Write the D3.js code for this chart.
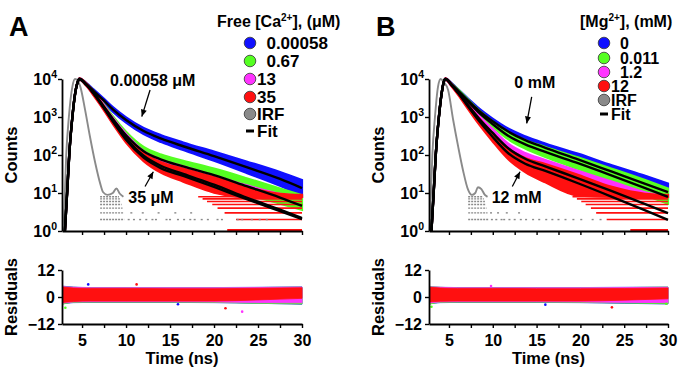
<!DOCTYPE html>
<html>
<head>
<meta charset="utf-8">
<script src="https://cdn.jsdelivr.net/npm/d3@7"></script>
<style>
  body { margin: 0; background: #fff; }
  svg text { font-family: "Liberation Sans", Arial, sans-serif; font-weight: bold; fill: #000; white-space: pre; }
</style>
</head>
<body>
<svg id="chart" width="679" height="369"></svg>
<script>
// ---- data (log10 of counts) ----
const tA = [3.05, 3.3, 3.6, 3.9, 4.2, 4.5, 4.7, 5.5, 6.3, 7.4, 8.5, 10, 12, 14, 16.5, 20, 23.7, 27.5, 30];
const blueFitA    = [0, 1.0, 2.2, 3.0, 3.6, 3.92, 4.0, 3.86, 3.69, 3.45, 3.20, 2.92, 2.63, 2.43, 2.23, 1.97, 1.68, 1.37, 1.13];
const greenFitA   = [0, 1.0, 2.2, 3.0, 3.6, 3.92, 4.0, 3.85, 3.64, 3.30, 2.95, 2.52, 2.10, 1.88, 1.70, 1.47, 1.18, 0.88, 0.66];
const magentaFitA = [0, 1.0, 2.2, 3.0, 3.6, 3.92, 4.0, 3.85, 3.63, 3.28, 2.91, 2.45, 1.98, 1.71, 1.50, 1.22, 0.88, 0.56, 0.34];
const redFitA     = [0, 1.0, 2.2, 3.0, 3.6, 3.92, 4.0, 3.85, 3.62, 3.26, 2.88, 2.40, 1.93, 1.65, 1.45, 1.16, 0.84, 0.52, 0.31];
const blueHiA     = [0, 1.0, 2.2, 3.0, 3.6, 3.92, 4.02, 3.89, 3.73, 3.50, 3.26, 2.99, 2.71, 2.52, 2.33, 2.09, 1.83, 1.55, 1.34];
const blueLoA     = [0, 1.0, 2.2, 3.0, 3.6, 3.92, 3.98, 3.83, 3.65, 3.40, 3.14, 2.85, 2.55, 2.34, 2.13, 1.85, 1.53, 1.19, 0.92];
const greenHiA    = [0, 1.0, 2.2, 3.0, 3.6, 3.92, 4.02, 3.88, 3.69, 3.36, 3.02, 2.61, 2.21, 2.01, 1.85, 1.64, 1.39, 1.12, 0.94];
const greenLoA    = [0, 1.0, 2.2, 3.0, 3.6, 3.92, 3.98, 3.82, 3.59, 3.24, 2.88, 2.43, 1.99, 1.75, 1.55, 1.28, 0.97, 0.72, 0.56];
const magentaHiA  = [0, 1.0, 2.2, 3.0, 3.6, 3.92, 4.02, 3.88, 3.68, 3.34, 2.98, 2.55, 2.10, 1.87, 1.70, 1.46, 1.20, 0.98, 0.93];
const magentaLoA  = [0, 1.0, 2.2, 3.0, 3.6, 3.92, 3.98, 3.82, 3.58, 3.22, 2.84, 2.37, 1.88, 1.58, 1.34, 1.03, 0.90, 0.90, 0.90];
const redHiA      = [0, 1.0, 2.2, 3.0, 3.6, 3.92, 4.02, 3.88, 3.67, 3.32, 2.95, 2.50, 2.05, 1.81, 1.64, 1.42, 1.16, 0.98, 0.95];
const redLoA      = [0, 1.0, 2.2, 3.0, 3.6, 3.92, 3.98, 3.82, 3.57, 3.21, 2.82, 2.33, 1.84, 1.53, 1.30, 1.01, 0.90, 0.90, 0.90];

const tB = [3.0, 3.25, 3.55, 3.85, 4.15, 4.4, 4.6, 5.3, 6.05, 7.2, 8.35, 9.9, 11.8, 13.7, 16.0, 19.8, 23.6, 27.4, 30];
const blueFitB    = [0, 1.0, 2.2, 3.0, 3.6, 3.92, 4.0, 3.86, 3.69, 3.43, 3.18, 2.90, 2.61, 2.39, 2.19, 1.88, 1.56, 1.24, 1.02];
const greenFitB   = [0, 1.0, 2.2, 3.0, 3.6, 3.92, 4.0, 3.85, 3.68, 3.40, 3.13, 2.83, 2.50, 2.28, 2.08, 1.78, 1.46, 1.13, 0.90];
const magentaFitB = [0, 1.0, 2.2, 3.0, 3.6, 3.92, 4.0, 3.84, 3.64, 3.30, 2.98, 2.60, 2.17, 1.90, 1.70, 1.38, 1.05, 0.71, 0.47];
const redFitB     = [0, 1.0, 2.2, 3.0, 3.6, 3.92, 4.0, 3.84, 3.63, 3.27, 2.92, 2.50, 2.04, 1.77, 1.58, 1.25, 0.90, 0.54, 0.29];
const blueHiB     = [0, 1.0, 2.2, 3.0, 3.6, 3.92, 4.02, 3.89, 3.73, 3.48, 3.24, 2.97, 2.69, 2.49, 2.30, 2.03, 1.73, 1.45, 1.25];
const blueLoB     = [0, 1.0, 2.2, 3.0, 3.6, 3.92, 3.98, 3.83, 3.65, 3.38, 3.12, 2.83, 2.53, 2.29, 2.08, 1.75, 1.40, 1.05, 0.85];
const greenHiB    = [0, 1.0, 2.2, 3.0, 3.6, 3.92, 4.02, 3.88, 3.72, 3.45, 3.19, 2.90, 2.59, 2.39, 2.21, 1.93, 1.64, 1.34, 1.12];
const greenLoB    = [0, 1.0, 2.2, 3.0, 3.6, 3.92, 3.98, 3.82, 3.64, 3.35, 3.07, 2.76, 2.41, 2.17, 1.95, 1.63, 1.28, 0.94, 0.72];
const magentaHiB  = [0, 1.0, 2.2, 3.0, 3.6, 3.92, 4.02, 3.87, 3.68, 3.36, 3.05, 2.70, 2.29, 2.05, 1.87, 1.58, 1.30, 1.02, 0.90];
const magentaLoB  = [0, 1.0, 2.2, 3.0, 3.6, 3.92, 3.98, 3.81, 3.60, 3.24, 2.91, 2.50, 2.05, 1.77, 1.53, 1.20, 0.92, 0.90, 0.90];
const redHiB      = [0, 1.0, 2.2, 3.0, 3.6, 3.92, 4.02, 3.86, 3.67, 3.32, 2.99, 2.59, 2.16, 1.92, 1.76, 1.47, 1.16, 0.98, 0.95];
const redLoB      = [0, 1.0, 2.2, 3.0, 3.6, 3.92, 3.98, 3.81, 3.58, 3.20, 2.83, 2.38, 1.88, 1.55, 1.28, 0.93, 0.90, 0.90, 0.90];

// IRF (log10 counts)
const irfTA = [2.9, 3.2, 3.5, 3.9, 4.2, 4.5, 4.8, 5.35, 5.9, 6.5, 7.05, 7.4, 7.9, 8.5, 8.9, 9.3, 9.7];
const irfA  = [0, 2.0, 3.0, 3.8, 4.0, 3.95, 3.8, 3.18, 2.48, 1.79, 1.26, 1.02, 0.95, 1.0, 1.12, 0.98, 0.9];
const irfTB = [2.8, 3.1, 3.4, 3.75, 4.05, 4.4, 4.9, 5.48, 6.05, 6.6, 7.19, 7.6, 8.0, 8.3, 8.7, 9.1, 9.4];
const irfB  = [0, 2.0, 3.0, 3.8, 4.0, 3.92, 3.71, 2.92, 2.22, 1.6, 1.08, 0.95, 1.0, 1.15, 1.1, 0.95, 0.9];

// discrete count levels (photon counts) seen as horizontal stripes
const stripeCounts = [2, 3, 4, 5, 6, 7, 8];
const irfStripeEndA = [9.8, 9.7, 9.6, 9.5, 9.4, 9.3, 9.2];
const irfStripeEndB = [9.5, 9.4, 9.3, 9.2, 9.1, 9.0, 8.9];
const irfSparse2A = [10.3, 10.9, 11.6, 12.3, 13.0, 13.4, 14.6, 15.0, 15.9, 16.6, 17.3, 17.8, 18.6, 19.3, 20.4, 20.9, 22.7, 23.2, 24.3, 25.2, 26.0];
const irfSparse3A = [10.6, 11.9, 13.7, 15.6, 17.4];
const irfSparse2B = [9.9, 10.4, 11.0, 11.3, 11.9, 12.5, 13.2, 13.8, 14.6, 15.3, 16.1, 16.8, 17.5, 18.3, 19.2, 20.1, 21.4, 22.3];
const irfSparse3B = [9.8, 10.6, 11.6, 13.0];
const redStripeStartA = [22.5, 21.2, 20.4, 19.8, 19.2, 18.7, 18.2];
const redStripeStartB = [23.0, 21.8, 21.2, 20.6, 20.1, 19.6, 19.1];
const redOneCountStartA = 21.5;
const redOneCountStartB = 25.7;

// residual bands
const tRes = [2.8, 4, 6, 10, 15, 20, 25, 30];
const blueResHiA    = [4.8, 4.4, 4.2, 4.2, 4.2, 4.2, 4.3, 4.5];
const blueResLoA    = [-3.0, -2.5, -2.4, -2.4, -2.4, -2.5, -2.8, -3.2];
const greenResHiA   = [4.6, 4.3, 4.1, 4.1, 4.1, 4.1, 4.2, 4.4];
const greenResLoA   = [-3.2, -2.4, -2.3, -2.3, -2.3, -2.4, -2.8, -3.1];
const magentaResHiA = [4.6, 4.3, 4.1, 4.1, 4.1, 4.1, 4.2, 4.4];
const magentaResLoA = [-2.8, -2.2, -2.1, -2.1, -2.1, -2.2, -2.5, -2.6];
const redResHiA     = [4.4, 4.0, 3.8, 3.8, 3.7, 3.7, 3.9, 4.1];
const redResLoA     = [-2.4, -2.0, -1.8, -1.8, -1.8, -1.8, -1.3, -0.6];
const blueResHiB    = [4.6, 4.3, 4.2, 4.2, 4.2, 4.2, 4.3, 4.4];
const blueResLoB    = [-3.0, -2.5, -2.4, -2.4, -2.4, -2.5, -2.8, -3.1];
const greenResHiB   = [4.6, 4.3, 4.1, 4.1, 4.1, 4.1, 4.2, 4.4];
const greenResLoB   = [-3.2, -2.4, -2.3, -2.3, -2.3, -2.4, -2.7, -3.0];
const magentaResHiB = [4.5, 4.3, 4.1, 4.1, 4.1, 4.1, 4.2, 4.3];
const magentaResLoB = [-2.7, -2.2, -2.1, -2.1, -2.1, -2.2, -2.4, -2.5];
const redResHiB     = [4.3, 4.0, 3.8, 3.8, 3.7, 3.7, 3.8, 4.0];
const redResLoB     = [-2.2, -1.9, -1.8, -1.8, -1.8, -1.8, -1.4, -0.8];
// stray residual points [t, residual, series]
const outliersA = [[5.7, 5.6, 0], [11.2, 5.6, 3], [3.1, -4.8, 1], [21.3, -5.0, 3], [23.2, -6.5, 2], [15.9, -3.2, 0]];
const outliersB = [[3.0, -4.3, 1], [23.6, -4.6, 3], [9.8, 4.9, 2], [29.8, -3.0, 1], [16.0, -3.4, 0]];

const colors = ['#1010ff', '#55ff22', '#ff33ff', '#ff1010'];
const irfColor = '#8a8a8a';
const legendA = ['  0.00058', '  0.67', '13', '35', 'IRF', 'Fit'];
const legendB = ['  0', '  0.011', '  1.2', '12', 'IRF', 'Fit'];

// ---- drawing ----
const svg = d3.select('#chart');
const TOP = 79, BOT = 231, RTOP = 270, RBOT = 324;

function drawPanel(p) {
  const x = d3.scaleLinear().domain([2.72, 30]).range([p.x0, p.x1]);
  const y = d3.scaleLog().domain([1, 1e4]).range([BOT, TOP]);
  const yr = d3.scaleLinear().domain([-12, 12]).range([RBOT, RTOP]);
  const g = svg.append('g');
  const pw = v => Math.pow(10, v);

  // data bands
  const area = d3.area().x(d => x(d.t)).y0(d => y(d.lo)).y1(d => y(d.hi)).curve(d3.curveMonotoneX);
  p.bands.forEach((b, i) => {
    const pts = p.t.map((t, j) => ({ t, lo: pw(b.lo[j]), hi: pw(b.hi[j]) }));
    g.append('path').datum(pts).attr('d', area)
      .attr('fill', colors[i]).attr('stroke', colors[i]).attr('stroke-width', 2.2);
  });

  // red count stripes
  stripeCounts.forEach((c, i) => {
    g.append('line').attr('x1', x(p.redStripe[i])).attr('x2', x(30))
      .attr('y1', y(c)).attr('y2', y(c))
      .attr('stroke', colors[3]).attr('stroke-width', 1.6);
  });
  g.append('line').attr('x1', x(p.redOne)).attr('x2', x(30))
    .attr('y1', y(1) - 1).attr('y2', y(1) - 1)
    .attr('stroke', colors[3]).attr('stroke-width', 2);

  // IRF
  const line = d3.line().x(d => x(d[0])).y(d => y(d[1])).curve(d3.curveMonotoneX);
  g.append('path').datum(p.irfT.map((t, j) => [t, pw(p.irf[j])])).attr('d', line)
    .attr('fill', 'none').attr('stroke', irfColor).attr('stroke-width', 1.9);
  stripeCounts.forEach((c, i) => {
    g.append('line').attr('x1', x(p.irfT[10])).attr('x2', x(p.irfEnd[i]))
      .attr('y1', y(c)).attr('y2', y(c))
      .attr('stroke', irfColor).attr('stroke-width', 1.4).attr('stroke-dasharray', '2,1');
  });
  [[p.sparse2, 2], [p.sparse3, 3]].forEach(([ts, c]) => {
    g.selectAll(null).data(ts).enter().append('rect')
      .attr('x', d => x(d) - 1).attr('y', y(c) - 0.7).attr('width', 2).attr('height', 1.4)
      .attr('fill', irfColor);
  });

  // fits
  p.fits.forEach(f => {
    g.append('path').datum(p.t.map((t, j) => [t, pw(f[j])])).attr('d', line)
      .attr('fill', 'none').attr('stroke', '#000').attr('stroke-width', 2.4);
  });

  // axes, decay plot
  const ax = g.append('g').attr('transform', `translate(0,${BOT})`)
    .call(d3.axisBottom(x).tickValues(d3.range(5, 30.1, 2.5)).tickFormat('').tickSize(4).tickSizeOuter(0));
  const ay = g.append('g').attr('transform', `translate(${p.x0},0)`)
    .call(d3.axisLeft(y).tickValues([1, 10, 100, 1000, 10000]).tickFormat('').tickSize(4).tickSizeOuter(0));
  [1, 10, 100, 1000, 10000].forEach(v => {
    const t = g.append('text').attr('x', p.x0 - 5).attr('y', y(v) + 6)
      .attr('text-anchor', 'end').style('font-size', '16px');
    t.append('tspan').text('10');
    t.append('tspan').attr('dy', -7).style('font-size', '10.5px').text(Math.round(Math.log10(v)));
  });

  // residuals
  const rarea = d3.area().x(d => x(d.t)).y0(d => yr(d.lo)).y1(d => yr(d.hi)).curve(d3.curveMonotoneX);
  p.res.forEach((b, i) => {
    const pts = tRes.map((t, j) => ({ t, lo: b.lo[j], hi: b.hi[j] }));
    g.append('path').datum(pts).attr('d', rarea)
      .attr('fill', colors[i]).attr('stroke', colors[i]).attr('stroke-width', 0.8);
  });
  g.selectAll(null).data(p.outliers).enter().append('circle')
    .attr('cx', d => x(d[0])).attr('cy', d => yr(d[1])).attr('r', 1.3)
    .attr('fill', d => colors[d[2]]);

  const rx = g.append('g').attr('transform', `translate(0,${RBOT})`)
    .call(d3.axisBottom(x).tickValues(d3.range(5, 30.1, 2.5)).tickSize(4).tickSizeOuter(0)
      .tickFormat(d => d % 5 === 0 ? d : ''));
  rx.selectAll('text').attr('dy', '0.95em').style('font-size', '16px');
  const ry = g.append('g').attr('transform', `translate(${p.x0},0)`)
    .call(d3.axisLeft(yr).tickValues([-12, 0, 12]).tickSize(4).tickSizeOuter(0));
  ry.selectAll('text').style('font-size', '16px').attr('dy', '0.36em');

  [ax, ay, rx, ry].forEach(a => {
    a.select('.domain').attr('stroke', '#000').attr('stroke-width', 1.8);
    a.selectAll('.tick line').attr('stroke', '#000').attr('stroke-width', 1.4);
    a.selectAll('text').attr('font-family', null).attr('fill', '#000');
  });

  // titles
  g.append('text').attr('transform', `translate(${p.x0 - 45},${(TOP + BOT) / 2}) rotate(-90)`)
    .attr('text-anchor', 'middle').style('font-size', '16.5px').text('Counts');
  g.append('text').attr('transform', `translate(${p.x0 - 45},${(RTOP + RBOT) / 2}) rotate(-90)`)
    .attr('text-anchor', 'middle').style('font-size', '16.5px').text('Residuals');
  g.append('text').attr('x', (p.x0 + p.x1) / 2).attr('y', 364)
    .attr('text-anchor', 'middle').style('font-size', '16.5px').text('Time (ns)');
  g.append('text').attr('x', p.letterX).attr('y', 36).style('font-size', '27px').text(p.letter);

  // annotations
  p.notes.forEach(n => {
    g.append('text').attr('x', x(n.t)).attr('y', y(pw(n.c))).style('font-size', '16px').text(n.text);
    const x1 = x(n.from[0]), y1 = y(pw(n.from[1])), x2 = x(n.to[0]), y2 = y(pw(n.to[1]));
    g.append('line').attr('x1', x1).attr('y1', y1).attr('x2', x2).attr('y2', y2)
      .attr('stroke', '#000').attr('stroke-width', 1.3);
    const a = Math.atan2(y2 - y1, x2 - x1), L = 7, W = 3;
    const pts = [[x2, y2],
      [x2 - L * Math.cos(a) + W * Math.sin(a), y2 - L * Math.sin(a) - W * Math.cos(a)],
      [x2 - L * Math.cos(a) - W * Math.sin(a), y2 - L * Math.sin(a) + W * Math.cos(a)]];
    g.append('path').attr('d', 'M' + pts.join('L') + 'Z').attr('fill', '#000');
  });

  // legend
  const lg = g.append('g');
  const head = lg.append('text').attr('x', p.legX).attr('y', 27).style('font-size', '16px');
  head.append('tspan').text(p.legHead[0]);
  head.append('tspan').attr('dy', -6).style('font-size', '10px').text('2+');
  head.append('tspan').attr('dy', 6).text(p.legHead[1]);
  p.legend.forEach((lab, i) => {
    const cy = p.legRows[i];
    if (i < 5) {
      lg.append('circle').attr('cx', p.legCx).attr('cy', cy).attr('r', 5.8)
        .attr('fill', i < 4 ? colors[i] : irfColor).attr('stroke', '#333').attr('stroke-width', 0.8);
    } else {
      lg.append('line').attr('x1', p.legCx - 4).attr('x2', p.legCx + 4).attr('y1', cy).attr('y2', cy)
        .attr('stroke', '#000').attr('stroke-width', 3);
    }
    lg.append('text').attr('x', p.legCx + 7).attr('y', cy + p.legFont * 0.36)
      .style('font-size', p.legFont + 'px').text(lab);
  });
}

drawPanel({
  x0: 62, x1: 302, letter: 'A', letterX: 9,
  t: tA,
  bands: [{ hi: blueHiA, lo: blueLoA }, { hi: greenHiA, lo: greenLoA }, { hi: magentaHiA, lo: magentaLoA }, { hi: redHiA, lo: redLoA }],
  fits: [blueFitA, greenFitA, magentaFitA, redFitA],
  irfT: irfTA, irf: irfA, irfEnd: irfStripeEndA, sparse2: irfSparse2A, sparse3: irfSparse3A,
  redStripe: redStripeStartA, redOne: redOneCountStartA,
  res: [{ hi: blueResHiA, lo: blueResLoA }, { hi: greenResHiA, lo: greenResLoA }, { hi: magentaResHiA, lo: magentaResLoA }, { hi: redResHiA, lo: redResLoA }],
  outliers: outliersA,
  notes: [
    { text: '0.00058 \u03bcM', t: 8.18, c: 3.82, from: [12.73, 3.71], to: [11.79, 3.01] },
    { text: '35 \u03bcM', t: 10.26, c: 0.74, from: [12.16, 1.17], to: [13.1, 1.56] }
  ],
  legHead: ['Free [Ca', '], (\u03bcM)'], legX: 217, legCx: 250, legRows: [43, 61, 79, 97, 114, 131],
  legFont: 17, legend: legendA
});

drawPanel({
  x0: 429, x1: 668, letter: 'B', letterX: 376,
  t: tB,
  bands: [{ hi: blueHiB, lo: blueLoB }, { hi: greenHiB, lo: greenLoB }, { hi: magentaHiB, lo: magentaLoB }, { hi: redHiB, lo: redLoB }],
  fits: [blueFitB, greenFitB, magentaFitB, redFitB],
  irfT: irfTB, irf: irfB, irfEnd: irfStripeEndB, sparse2: irfSparse2B, sparse3: irfSparse3B,
  redStripe: redStripeStartB, redOne: redOneCountStartB,
  res: [{ hi: blueResHiB, lo: blueResLoB }, { hi: greenResHiB, lo: greenResLoB }, { hi: magentaResHiB, lo: magentaResLoB }, { hi: redResHiB, lo: redResLoB }],
  outliers: outliersB,
  notes: [
    { text: '0 mM', t: 12.46, c: 3.76, from: [14.44, 3.53], to: [13.87, 2.83] },
    { text: '12 mM', t: 9.88, c: 0.74, from: [12.23, 1.17], to: [13.11, 1.56] }
  ],
  legHead: ['[Mg', '], (mM)'], legX: 580, legCx: 604, legRows: [43, 58, 72, 86, 100, 114],
  legFont: 16, legend: legendB
});
</script>
</body>
</html>
